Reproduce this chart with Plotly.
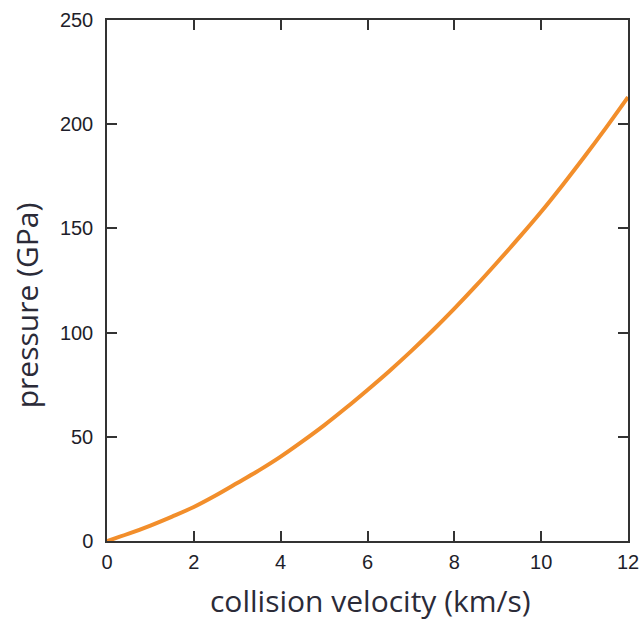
import plotly.graph_objects as go

velocity = [0, 0.5, 1, 1.5, 2, 2.5, 3, 3.5, 4, 4.5, 5, 5.5, 6, 6.5, 7, 7.5, 8, 8.5, 9, 9.5, 10, 10.5, 11, 11.5, 12]
pressure = [0, 3.5, 7.4, 11.7, 16.3, 21.8, 27.8, 33.9, 40.5, 47.8, 55.5, 63.8, 72.5, 81.5, 91.0, 101.0, 111.5, 122.5, 134.0, 145.8, 158.0, 171.0, 184.5, 198.5, 213.0]

x_ticks = [0, 2, 4, 6, 8, 10, 12]
y_ticks = [0, 50, 100, 150, 200, 250]

fig = go.Figure()
fig.add_trace(go.Scatter(
    x=velocity, y=pressure, mode="lines",
    line=dict(color="#f28e2b", width=4, shape="spline"),
    hoverinfo="skip", showlegend=False,
))

axis_common = dict(
    showgrid=False, zeroline=False, showline=True, linecolor="#333333", linewidth=1.5,
    ticks="inside", ticklen=10, tickwidth=1.5, tickcolor="#333333", mirror="ticks",
    tickfont=dict(family="Liberation Sans, Arial, sans-serif", size=20, color="#1e1e2a"),
    automargin=False,
)

fig.update_xaxes(range=[0, 12], tickvals=x_ticks, ticktext=[str(t) for t in x_ticks],
                 ticklabelstandoff=2, **axis_common)
fig.update_yaxes(range=[0, 250], tickvals=y_ticks, ticktext=[str(t) for t in y_ticks],
                 ticklabelstandoff=8, **axis_common)

title_font = dict(family="Open Sans, Noto Sans, sans-serif", size=30, color="#2b2b38")
fig.add_annotation(text="collision velocity (km/s)", xref="paper", yref="paper",
                   x=0.505, y=-0.114, xanchor="center", yanchor="middle",
                   showarrow=False, font=title_font)
fig.add_annotation(text="pressure (GPa)", xref="paper", yref="paper",
                   x=-0.153, y=0.453, xanchor="center", yanchor="middle", textangle=-90,
                   showarrow=False, font=title_font)

fig.update_layout(
    width=642, height=620,
    margin=dict(l=107, r=14, t=20, b=79, autoexpand=False),
    plot_bgcolor="white", paper_bgcolor="white",
)

fig.write_html("out.html")
